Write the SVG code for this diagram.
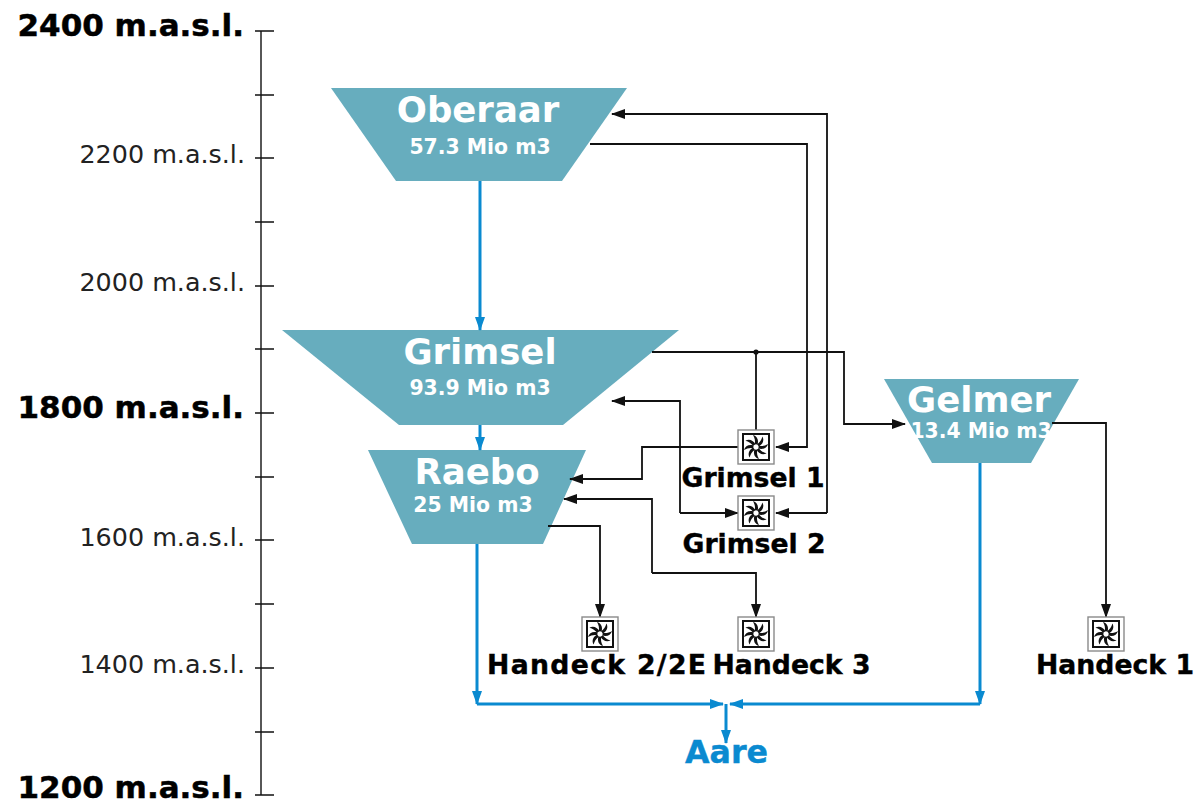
<svg xmlns="http://www.w3.org/2000/svg" width="1202" height="803" viewBox="0 0 1202 803">
<style>
text{font-family:"DejaVu Sans",Verdana,sans-serif}
.ax{font-size:25.4px;fill:#222;text-anchor:end}
.axb{font-size:31px;font-weight:700;fill:#000;stroke:#000;stroke-width:.5;text-anchor:end}
.res{fill:#67adbe}
.t1{font-size:35.5px;font-weight:700;fill:#fff;text-anchor:middle}
.t2{font-size:20.4px;font-weight:700;fill:#fff;text-anchor:middle}
.pl{font-size:26.7px;font-weight:700;fill:#000;stroke:#000;stroke-width:.4;text-anchor:middle}
.k{fill:none;stroke:#111;stroke-width:1.8}
.b{fill:none;stroke:#0a8ad0;stroke-width:3}
.tick{stroke:#111;stroke-width:1.4;fill:none}
.blade{fill:#111}
</style>
<defs>
<marker id="ak" markerUnits="userSpaceOnUse" markerWidth="14" markerHeight="10" refX="13" refY="5" orient="auto"><path d="M0 0L14 5L0 10z" fill="#111"/></marker>
<marker id="ab" markerUnits="userSpaceOnUse" markerWidth="14" markerHeight="10" refX="13" refY="5" orient="auto"><path d="M0 0L14 5L0 10z" fill="#0a8ad0"/></marker>
<path id="bl" class="blade" d="M-1.2-2.8C-.6-6-1.2-9-3-12C1-11 3-7 1.6-2.4z"/>
<g id="turbine">
<rect x="-18" y="-17" width="36" height="34" fill="#fff" stroke="#8a8a8a" stroke-width="1.4"/>
<rect x="-13" y="-13" width="26" height="26" fill="#fff" stroke="#111" stroke-width="2"/>
<use href="#bl"/>
<use href="#bl" transform="rotate(45)"/>
<use href="#bl" transform="rotate(90)"/>
<use href="#bl" transform="rotate(135)"/>
<use href="#bl" transform="rotate(180)"/>
<use href="#bl" transform="rotate(225)"/>
<use href="#bl" transform="rotate(270)"/>
<use href="#bl" transform="rotate(315)"/>
</g>
</defs>
<rect width="1202" height="803" fill="#fff"/>
<g id="axis">
<path class="tick" d="M261 31V795M255 31H274M255 95H274M255 158H274M255 222H274M255 286H274M255 349H274M255 413H274M255 477H274M255 540H274M255 604H274M255 668H274M255 732H274M255 795H274"/>
<text class="axb" x="244" y="36">2400 m.a.s.l.</text>
<text class="ax" x="245" y="163">2200 m.a.s.l.</text>
<text class="ax" x="245" y="291">2000 m.a.s.l.</text>
<text class="axb" x="244" y="418">1800 m.a.s.l.</text>
<text class="ax" x="245" y="546">1600 m.a.s.l.</text>
<text class="ax" x="245" y="673">1400 m.a.s.l.</text>
<text class="axb" x="244" y="798">1200 m.a.s.l.</text>
</g>
<g id="oberaar"><polygon class="res" points="331,88 627,88 562,181 396,181"/><text class="t1" x="478" y="122">Oberaar</text><text class="t2" x="480" y="154">57.3 Mio m3</text></g>
<g id="grimsel"><polygon class="res" points="282,330 679,330 563,425 399,425"/><text class="t1" x="480" y="364">Grimsel</text><text class="t2" x="480" y="395">93.9 Mio m3</text></g>
<g id="raebo"><polygon class="res" points="368,450 586,450 543,544 412,544"/><text class="t1" x="477" y="484">Raebo</text><text class="t2" x="473" y="512">25 Mio m3</text></g>
<g id="gelmer"><polygon class="res" points="884,379 1079,379 1031,463 932,463"/><text class="t1" x="979" y="412">Gelmer</text><text class="t2" x="981" y="438">13.4 Mio m3</text></g>
<g id="connectors">
<path class="b" marker-end="url(#ab)" d="M480 181V330"/>
<path class="b" marker-end="url(#ab)" d="M480 425V450"/>
<path class="b" marker-end="url(#ab)" d="M477 544V704"/>
<path class="b" marker-end="url(#ab)" d="M980 463V704"/>
<path class="b" marker-end="url(#ab)" d="M477 704H723"/>
<path class="b" marker-end="url(#ab)" d="M980 704H730"/>
<path class="b" marker-end="url(#ab)" d="M726 704V743"/>
<path class="k" marker-end="url(#ak)" d="M827 513V114H612"/>
<path class="k" marker-end="url(#ak)" d="M827 513H776"/>
<path class="k" marker-end="url(#ak)" d="M590 144H807V447H776"/>
<path class="k" marker-end="url(#ak)" d="M652 352H844V424H905"/>
<path class="k" d="M756 352V430"/>
<circle cx="756" cy="352" r="2.6" fill="#111"/>
<path class="k" marker-end="url(#ak)" d="M738 447H642V479H570"/>
<path class="k" marker-end="url(#ak)" d="M680 513V401H612"/>
<path class="k" marker-end="url(#ak)" d="M680 513H738"/>
<path class="k" marker-end="url(#ak)" d="M548 526H600V617"/>
<path class="k" marker-end="url(#ak)" d="M652 573H756V617"/>
<path class="k" marker-end="url(#ak)" d="M652 573V499H564"/>
<path class="k" marker-end="url(#ak)" d="M1052 423H1106V617"/>
</g>
<g id="grimsel-1"><use href="#turbine" x="756" y="447"/><text class="pl" x="753" y="487">Grimsel 1</text></g>
<g id="grimsel-2"><use href="#turbine" x="756" y="513"/><text class="pl" x="754" y="553">Grimsel 2</text></g>
<g id="handeck-2"><use href="#turbine" x="600" y="634"/><text class="pl" x="596.5" y="674" textLength="219">Handeck 2/2E</text></g>
<g id="handeck-3"><use href="#turbine" x="756" y="634"/><text class="pl" x="791.5" y="674">Handeck 3</text></g>
<g id="handeck-1"><use href="#turbine" x="1106" y="634"/><text class="pl" x="1115" y="674">Handeck 1</text></g>
<g id="aare"><text x="726.5" y="763" text-anchor="middle" font-size="31.7" font-weight="700" fill="#0a8ad0" stroke="#0a8ad0" stroke-width=".4">Aare</text></g>
</svg>
